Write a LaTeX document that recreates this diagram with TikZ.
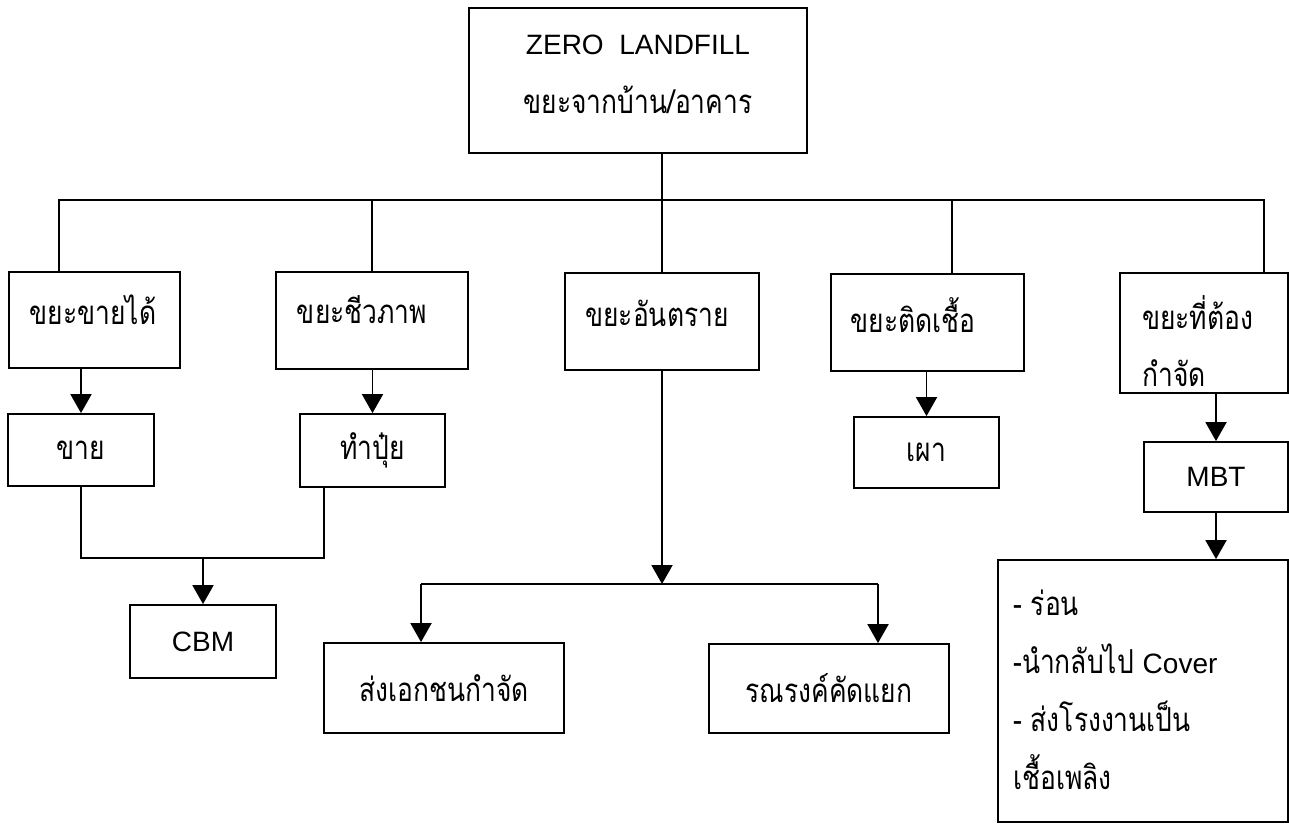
\documentclass[tikz,border=0pt]{standalone}
\usepackage{fontspec}
\setmainfont{Liberation Sans}
\newfontfamily\thai[Script=Thai, FakeStretch=0.8]{Loma}
\usetikzlibrary{arrows.meta}
\tikzset{
  box/.style={draw, line width=1.8pt, inner sep=0pt},
  th/.style={font=\thai\fontsize{33}{36}\selectfont, inner sep=0pt},
  la/.style={font=\fontsize{28}{30}\selectfont, inner sep=0pt},
  conn/.style={line width=1.9pt},
  arr/.style={line width=1.9pt, -{Triangle[length=19pt,width=21pt]}}
}
\begin{document}
\begin{tikzpicture}[x=1pt,y=-1pt]
\useasboundingbox (0,0) rectangle (1289,824);
% boxes
\node[box, minimum width=338pt, minimum height=145pt] (top) at (638,80.5) {};
\node[la] (topA) at (638,45) {ZERO\ \ LANDFILL};
\node[th] (topB) at (638,100) {ขยะจากบ้าน/อาคาร};

\node[box, minimum width=171pt, minimum height=96pt] (b1) at (94.5,320) {};
\node[th] (t1) at (93,310) {ขยะขายได้};
\node[box, minimum width=192pt, minimum height=97pt] (b2) at (372,320.5) {};
\node[th] (t2) at (362,310) {ขยะชีวภาพ};
\node[box, minimum width=194pt, minimum height=97pt] (b3) at (662,321.5) {};
\node[th] (t3) at (657,313) {ขยะอันตราย};
\node[box, minimum width=193pt, minimum height=97pt] (b4) at (927.5,322.5) {};
\node[th] (t4) at (913,315) {ขยะติดเชื้อ};
\node[box, minimum width=168pt, minimum height=120pt] (b5) at (1204,333) {};
\node[th, anchor=west] (t5a) at (1142,313) {ขยะที่ต้อง};
\node[th, anchor=west] (t5b) at (1142,373) {กำจัด};

\node[box, minimum width=146pt, minimum height=72pt, th] (s1) at (81,450) {ขาย};
\node[box, minimum width=145pt, minimum height=73pt, th] (s2) at (372.5,450.5) {ทำปุ๋ย};
\node[box, minimum width=145pt, minimum height=71pt, th] (s4) at (926.5,452.5) {เผา};
\node[box, minimum width=144pt, minimum height=70pt, la] (mbt) at (1216,477) {MBT};
\node[box, minimum width=290pt, minimum height=262pt] (big) at (1143,691) {};
\node[th, anchor=west, align=left, font=\thai\fontsize{33}{58}\selectfont] (bigt) at (1013,690)
  {- ร่อน\\-นำกลับไป {\fontspec{Liberation Sans}\fontsize{28}{58}\selectfont Cover}\\- ส่งโรงงานเป็น\\เชื้อเพลิง};

\node[box, minimum width=146pt, minimum height=73pt, la] (cbm) at (203,641.5) {CBM};
\node[box, minimum width=240pt, minimum height=90pt, th] (p1) at (444,688) {ส่งเอกชนกำจัด};
\node[box, minimum width=240pt, minimum height=89pt, th] (p2) at (829,688.5) {รณรงค์คัดแยก};

% connectors
\coordinate (jL) at (59,200);
\coordinate (jR) at (1264,200);
\coordinate (j4) at (952,200);
\draw[conn] (b3.north |- top.south) -- (b3.north);
\draw[conn] (jL |- b1.north) -- (jL) -- (jR) -- (jR |- b5.north);
\draw[conn] (b2.north |- jL) -- (b2.north);
\draw[conn] (j4) -- (j4 |- b4.north);

\draw[arr] (s1.north |- b1.south) -- (s1.north);
\draw[arr] (s2.north |- b2.south) -- (s2.north);
\draw[arr] (s4.north |- b4.south) -- (s4.north);
\draw[arr] (mbt.north |- b5.south) -- (mbt.north);
\draw[arr] (mbt.south) -- (mbt.south |- big.north);

\coordinate (mj) at (324,558);
\draw[conn] (s1.south) -- (s1.south |- mj) -- (mj) -- (mj |- s2.south);
\draw[arr] (cbm.north |- mj) -- (cbm.north);

\coordinate (hz) at (662,584);
\coordinate (hzL) at (421,584);
\coordinate (hzR) at (878,584);
\draw[arr] (hz |- b3.south) -- (hz);
\draw[conn] (hzL) -- (hzR);
\draw[arr] (hzL) -- (hzL |- p1.north);
\draw[arr] (hzR) -- (hzR |- p2.north);
\end{tikzpicture}
\end{document}
